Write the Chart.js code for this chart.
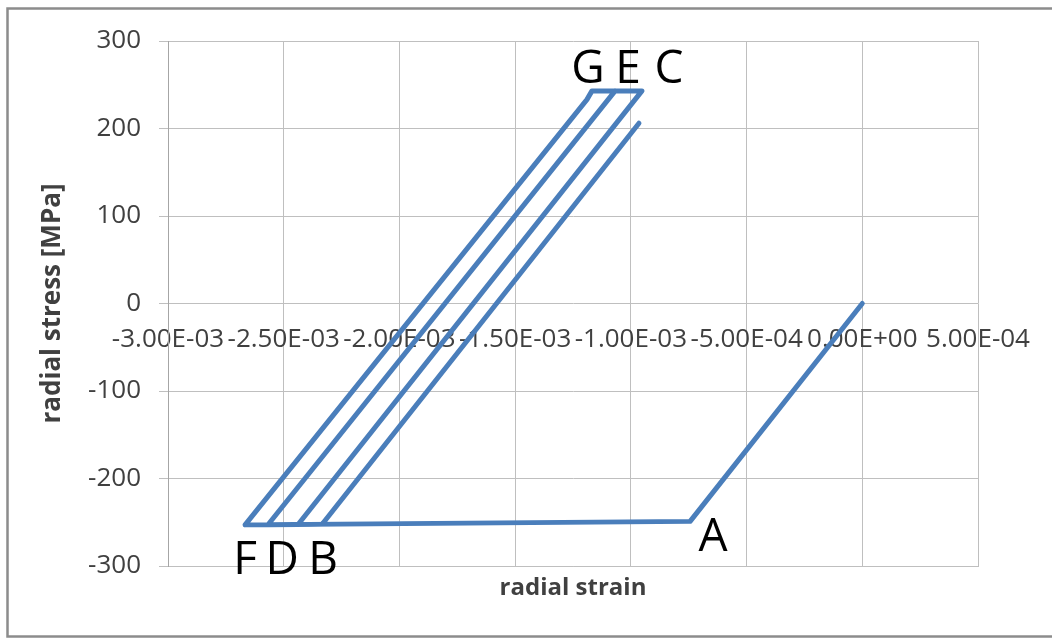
<!DOCTYPE html>
<html>
<head>
<meta charset="utf-8">
<title>radial stress vs radial strain</title>
<script src="https://cdn.jsdelivr.net/npm/chart.js@4.4.1/dist/chart.umd.min.js"></script>
<style>
  html, body { margin: 0; padding: 0; background: #fff; }
  canvas { display: block; }
</style>
</head>
<body>
<canvas id="chart" width="1052" height="639"></canvas>
<script>
// DATA: O -> A -> F -> G -> C -> B -> D -> E -> D -> end
const strain = [0, -0.744e-3, -2.667e-3, -1.190e-3, -1.168e-3, -0.952e-3, -2.438e-3, -2.568e-3, -1.068e-3, -2.568e-3, -2.334e-3, -0.965e-3];
const stress = [0, -249, -253, 233, 243, 243, -252.5, -252.8, 243, -252.8, -252.3, 206];

// axis ticks
const strainTicks = [-3e-3, -2.5e-3, -2e-3, -1.5e-3, -1e-3, -5e-4, 0, 5e-4];
const strainTickLabels = ['-3.00E-03', '-2.50E-03', '-2.00E-03', '-1.50E-03', '-1.00E-03', '-5.00E-04', '0.00E+00', '5.00E-04'];
const stressTicks = [-300, -200, -100, 0, 100, 200, 300];

// point names on the loop
const pointNames = ['A', 'F', 'D', 'B', 'G', 'E', 'C'];
const nameStrain = [-0.645e-3, -2.667e-3, -2.507e-3, -2.330e-3, -1.185e-3, -1.012e-3, -0.835e-3];
const nameStress = [-268, -294, -294, -294, 267, 267, 267];

const gridColor = '#bfbfbf';
const textColor = '#404040';

Chart.defaults.font.family = '"Open Sans", sans-serif';

// outer frame of the chart
const frame = {
  id: 'frame',
  beforeDraw(chart) {
    const ctx = chart.ctx;
    ctx.save();
    ctx.fillStyle = '#fff';
    ctx.fillRect(0, 0, chart.width, chart.height);
    ctx.strokeStyle = '#8c8c8c';
    ctx.lineWidth = 2.5;
    ctx.strokeRect(7.5, 8.5, 1060, 628);
    ctx.restore();
  }
};

// A..G letters
const pointLabels = {
  id: 'pointLabels',
  afterDatasetsDraw(chart) {
    const { ctx, scales: { x, y } } = chart;
    ctx.save();
    ctx.font = '46px "Open Sans"';
    ctx.fillStyle = '#000';
    ctx.textAlign = 'center';
    ctx.textBaseline = 'middle';
    pointNames.forEach((name, i) => {
      ctx.fillText(name, x.getPixelForValue(nameStrain[i]), y.getPixelForValue(nameStress[i]));
    });
    ctx.restore();
  }
};

const setStrainTicks = (scale) => {
  scale.ticks = strainTicks.map(v => ({ value: v }));
};

new Chart(document.getElementById('chart'), {
  type: 'scatter',
  data: {
    datasets: [{
      data: strain.map((s, i) => ({ x: s, y: stress[i] })),
      showLine: true,
      borderColor: '#4a7ebb',
      borderWidth: 5,
      borderJoinStyle: 'round',
      borderCapStyle: 'round',
      pointRadius: 0,
      fill: false
    }]
  },
  options: {
    responsive: false,
    animation: false,
    layout: { padding: { top: 41, right: 74, left: 0, bottom: 0 } },
    plugins: {
      legend: { display: false },
      tooltip: { enabled: false }
    },
    scales: {
      x: {
        type: 'linear',
        position: 'bottom',
        min: -3e-3,
        max: 5e-4,
        afterBuildTicks: setStrainTicks,
        afterFit: (scale) => { scale.height = 73; },
        ticks: { display: false },
        grid: { color: gridColor, drawTicks: false },
        border: { color: gridColor },
        title: {
          display: true,
          text: 'radial strain',
          color: textColor,
          font: { size: 24, weight: 'bold' },
          padding: { top: 0, bottom: 36 }
        }
      },
      x2: {
        type: 'linear',
        position: { y: 0 },
        min: -3e-3,
        max: 5e-4,
        afterBuildTicks: setStrainTicks,
        ticks: {
          autoSkip: false,
          maxRotation: 0,
          minRotation: 0,
          padding: 20,
          color: textColor,
          font: { size: 26 },
          callback: (v, i) => strainTickLabels[i]
        },
        grid: { display: false, drawTicks: false },
        border: { display: false }
      },
      y: {
        type: 'linear',
        min: -300,
        max: 300,
        afterBuildTicks: (scale) => { scale.ticks = stressTicks.map(v => ({ value: v })); },
        afterFit: (scale) => { scale.width = 168; },
        ticks: {
          padding: 18,
          color: textColor,
          font: { size: 26 },
          callback: (v) => String(v)
        },
        grid: { color: gridColor, tickLength: 9 },
        border: { color: '#a6a6a6' },
        title: {
          display: true,
          text: 'radial stress [MPa]',
          color: textColor,
          font: { size: 26, weight: 'bold' },
          padding: { top: 37, bottom: 0 }
        }
      }
    }
  },
  plugins: [frame, pointLabels]
});
</script>
</body>
</html>
